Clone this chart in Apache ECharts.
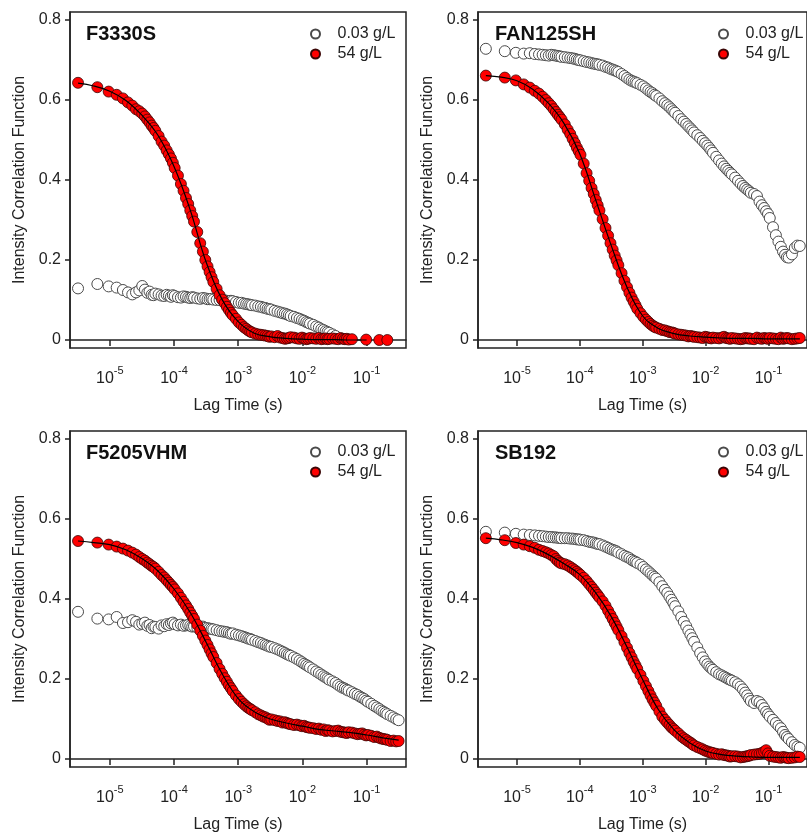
<!DOCTYPE html>
<html>
<head>
<meta charset="utf-8">
<script src="https://cdn.jsdelivr.net/npm/echarts@6/dist/echarts.min.js"></script>
<style>
  html, body { margin: 0; padding: 0; background: #fff; }
  #chart { width: 807px; height: 836px; }
</style>
</head>
<body>
<div id="chart"></div>
<script>
// lag times (s) of the correlator channels
const lagTimes = [
  3.2e-6, 6.4e-6, 9.6e-6, 1.28e-5, 1.6e-5, 1.92e-5, 2.24e-5, 2.56e-5,
  2.88e-5, 3.2e-5, 3.52e-5, 3.84e-5, 4.16e-5, 4.48e-5, 4.8e-5, 5.12e-5,
  5.76e-5, 6.4e-5, 7.04e-5, 7.68e-5, 8.32e-5, 8.96e-5, 9.6e-5, 1.024e-4,
  1.152e-4, 1.28e-4, 1.408e-4, 1.536e-4, 1.664e-4, 1.792e-4, 1.92e-4, 2.048e-4,
  2.304e-4, 2.56e-4, 2.816e-4, 3.072e-4, 3.328e-4, 3.584e-4, 3.84e-4, 4.096e-4,
  4.608e-4, 5.12e-4, 5.632e-4, 6.144e-4, 6.656e-4, 7.168e-4, 7.68e-4, 8.192e-4,
  9.216e-4, 1.024e-3, 1.126e-3, 1.229e-3, 1.331e-3, 1.434e-3, 1.536e-3, 1.638e-3,
  1.843e-3, 2.048e-3, 2.253e-3, 2.458e-3, 2.662e-3, 2.867e-3, 3.072e-3, 3.277e-3,
  3.686e-3, 4.096e-3, 4.506e-3, 4.915e-3, 5.325e-3, 5.734e-3, 6.144e-3, 6.554e-3,
  7.373e-3, 8.192e-3, 9.011e-3, 9.83e-3, 1.065e-2, 1.147e-2, 1.229e-2, 1.311e-2,
  1.475e-2, 1.638e-2, 1.802e-2, 1.966e-2, 2.13e-2, 2.294e-2, 2.458e-2, 2.621e-2,
  2.949e-2, 3.277e-2, 3.604e-2, 3.932e-2, 4.26e-2, 4.588e-2, 4.915e-2, 5.243e-2,
  5.898e-2, 6.554e-2, 7.209e-2, 7.864e-2, 8.52e-2, 9.175e-2, 9.83e-2, 0.1049,
  0.118, 0.1311, 0.1442, 0.1573, 0.1704, 0.1835, 0.1966, 0.2097,
  0.2359, 0.2621, 0.2884, 0.3146];
// lag times of the fitted curves
const fitLag = [3.2e-6, 5.62e-6, 1e-5, 1.78e-5, 3.16e-5, 5.62e-5, 1e-4, 1.78e-4, 3.16e-4,
  5.62e-4, 1e-3, 1.78e-3, 3.16e-3, 5.62e-3, 1e-2, 1.78e-2, 3.16e-2, 5.62e-2, 0.1, 0.178, 0.316];

const xTickValues = [1e-5, 1e-4, 1e-3, 1e-2, 1e-1];
const xTickExps = ['-5', '-4', '-3', '-2', '-1'];
const yTickValues = [0, 0.2, 0.4, 0.6, 0.8];
const yTickLabels = ['0', '0.2', '0.4', '0.6', '0.8'];
const seriesNames = ['0.03 g/L', '54 g/L'];
const panelTitles = ['F3330S', 'FAN125SH', 'F5205VHM', 'SB192'];

// F3330S
const f3330sLow = [
  0.129, 0.140, 0.134, 0.131, 0.125, 0.119, 0.114, 0.119,
  0.124, 0.135, 0.126, 0.118, 0.121, 0.113, 0.112, 0.116,
  0.114, 0.111, 0.110, 0.113, 0.111, 0.108, 0.112, 0.110,
  0.107, 0.106, 0.109, 0.108, 0.106, 0.105, 0.107, 0.106,
  0.104, 0.103, 0.105, 0.104, 0.102, 0.102, 0.103, 0.101,
  0.100, 0.100, 0.101, 0.099, 0.098, 0.097, 0.098, 0.097,
  0.095, 0.093, 0.093, 0.091, 0.090, 0.089, 0.088, 0.087,
  0.086, 0.084, 0.083, 0.081, 0.080, 0.078, 0.077, 0.076,
  0.073, 0.071, 0.069, 0.067, 0.066, 0.064, 0.062, 0.060,
  0.058, 0.055, 0.053, 0.050, 0.048, 0.045, 0.043, 0.041,
  0.038, 0.034, 0.031, 0.027, 0.025, 0.022, 0.020, 0.018,
  0.014, 0.010];
const f3330sHigh = [
  0.643, 0.632, 0.621, 0.613, 0.604, 0.594, 0.586, 0.577,
  0.572, 0.566, 0.559, 0.551, 0.544, 0.536, 0.530, 0.523,
  0.510, 0.496, 0.486, 0.474, 0.464, 0.454, 0.443, 0.430,
  0.411, 0.390, 0.373, 0.355, 0.340, 0.324, 0.310, 0.296,
  0.270, 0.242, 0.221, 0.200, 0.184, 0.170, 0.157, 0.145,
  0.128, 0.112, 0.101, 0.092, 0.083, 0.075, 0.068, 0.062,
  0.053, 0.044, 0.038, 0.032, 0.028, 0.024, 0.021, 0.019,
  0.016, 0.014, 0.013, 0.012, 0.011, 0.010, 0.008, 0.009,
  0.007, 0.010, 0.006, 0.005, 0.003, 0.004, 0.005, 0.007,
  0.006, 0.004, 0.003, 0.006, 0.004, 0.002, 0.003, 0.005,
  0.004, 0.003, 0.005, 0.002, 0.003, 0.004, 0.002, 0.003,
  0.004, 0.003, 0.002, 0.005, 0.003, 0.002, 0.003, 0.001,
  0.002, null, null, null, null, null, 0.001, null,
  null, null, null, 0.000, null, null, null, 0.000];
const f3330sFit = [0.642, 0.635, 0.622, 0.599, 0.562, 0.512, 0.434, 0.326, 0.195, 0.101, 0.046, 0.017,
  0.008, 0.004, 0.002, 0.001, 0.001, 0.000, 0.000];

// FAN125SH
const fan125shLow = [
  0.728, 0.722, 0.718, 0.716, 0.717, 0.715, 0.714, 0.713,
  0.712, 0.711, 0.713, 0.712, 0.711, 0.710, 0.709, 0.708,
  0.707, 0.706, 0.705, 0.704, 0.703, 0.701, 0.700, 0.699,
  0.697, 0.695, 0.694, 0.692, 0.691, 0.690, 0.689, 0.688,
  0.686, 0.683, 0.681, 0.678, 0.676, 0.674, 0.672, 0.670,
  0.665, 0.660, 0.655, 0.651, 0.648, 0.646, 0.644, 0.642,
  0.638, 0.634, 0.629, 0.624, 0.620, 0.617, 0.613, 0.610,
  0.604, 0.597, 0.592, 0.587, 0.582, 0.577, 0.572, 0.568,
  0.560, 0.552, 0.546, 0.540, 0.534, 0.529, 0.524, 0.519,
  0.512, 0.505, 0.498, 0.492, 0.486, 0.480, 0.474, 0.468,
  0.458, 0.449, 0.441, 0.434, 0.428, 0.423, 0.418, 0.414,
  0.406, 0.398, 0.391, 0.385, 0.380, 0.376, 0.372, 0.368,
  0.365, 0.360, 0.346, 0.337, 0.330, 0.322, 0.315, 0.305,
  0.282, 0.262, 0.246, 0.233, 0.221, 0.213, 0.207, 0.206,
  0.214, 0.230, 0.236, 0.235];
const fan125shHigh = [
  0.661, 0.656, 0.649, 0.639, 0.631, 0.623, 0.616, 0.608,
  0.600, 0.592, 0.585, 0.577, 0.570, 0.563, 0.557, 0.551,
  0.539, 0.526, 0.515, 0.503, 0.492, 0.481, 0.472, 0.463,
  0.441, 0.417, 0.398, 0.380, 0.365, 0.350, 0.337, 0.324,
  0.302, 0.280, 0.261, 0.242, 0.226, 0.211, 0.199, 0.187,
  0.167, 0.148, 0.132, 0.118, 0.106, 0.096, 0.087, 0.078,
  0.067, 0.058, 0.051, 0.045, 0.040, 0.036, 0.033, 0.031,
  0.028, 0.025, 0.024, 0.022, 0.020, 0.019, 0.018, 0.016,
  0.014, 0.013, 0.012, 0.011, 0.009, 0.010, 0.009, 0.008,
  0.007, 0.006, 0.005, 0.008, 0.007, 0.005, 0.004, 0.006,
  0.005, 0.004, 0.006, 0.008, 0.005, 0.004, 0.003, 0.005,
  0.004, 0.003, 0.002, 0.003, 0.005, 0.004, 0.004, 0.003,
  0.002, 0.006, 0.004, 0.003, 0.005, 0.004, 0.003, 0.005,
  0.004, 0.003, 0.002, 0.006, 0.003, 0.004, 0.005, 0.004,
  0.002, 0.003, 0.004, 0.005];
const fan125shFit = [0.661, 0.657, 0.648, 0.627, 0.592, 0.541, 0.465, 0.351, 0.236, 0.132, 0.060, 0.029,
  0.016, 0.010, 0.007, 0.005, 0.004, 0.004, 0.003, 0.003, 0.003];

// F5205VHM
const f5205vhmLow = [
  0.368, 0.351, 0.349, 0.355, 0.340, 0.342, 0.347, 0.343,
  0.336, 0.338, 0.341, 0.333, 0.335, 0.327, 0.331, 0.330,
  0.326, 0.334, 0.332, 0.337, 0.335, 0.339, 0.341, 0.337,
  0.334, 0.336, 0.333, 0.334, 0.335, 0.333, 0.331, 0.332,
  0.329, 0.330, 0.331, 0.328, 0.327, 0.326, 0.325, 0.324,
  0.322, 0.320, 0.319, 0.318, 0.317, 0.315, 0.313, 0.314,
  0.311, 0.309, 0.307, 0.305, 0.303, 0.301, 0.300, 0.298,
  0.295, 0.292, 0.290, 0.287, 0.285, 0.283, 0.281, 0.280,
  0.277, 0.274, 0.271, 0.268, 0.265, 0.262, 0.260, 0.258,
  0.254, 0.250, 0.246, 0.242, 0.238, 0.235, 0.232, 0.229,
  0.224, 0.219, 0.215, 0.211, 0.207, 0.204, 0.201, 0.198,
  0.194, 0.190, 0.185, 0.181, 0.178, 0.176, 0.173, 0.171,
  0.167, 0.163, 0.160, 0.156, 0.153, 0.150, 0.146, 0.143,
  0.138, 0.133, 0.129, 0.125, 0.121, 0.118, 0.115, 0.112,
  0.108, 0.104, 0.100, 0.097];
const f5205vhmHigh = [
  0.545, 0.541, 0.536, 0.531, 0.526, 0.521, 0.516, 0.511,
  0.505, 0.500, 0.496, 0.491, 0.487, 0.483, 0.480, 0.476,
  0.468, 0.460, 0.454, 0.447, 0.441, 0.435, 0.430, 0.424,
  0.414, 0.403, 0.393, 0.384, 0.375, 0.366, 0.358, 0.350,
  0.336, 0.321, 0.308, 0.296, 0.285, 0.274, 0.264, 0.255,
  0.240, 0.225, 0.213, 0.202, 0.193, 0.184, 0.177, 0.170,
  0.159, 0.150, 0.143, 0.137, 0.132, 0.128, 0.125, 0.122,
  0.117, 0.112, 0.109, 0.106, 0.104, 0.101, 0.098, 0.099,
  0.097, 0.095, 0.094, 0.091, 0.092, 0.090, 0.088, 0.087,
  0.085, 0.086, 0.084, 0.082, 0.083, 0.080, 0.079, 0.078,
  0.077, 0.075, 0.076, 0.073, 0.074, 0.070, 0.072, 0.071,
  0.069, 0.070, 0.071, 0.068, 0.067, 0.066, 0.065, 0.067,
  0.066, 0.064, 0.062, 0.063, 0.064, 0.061, 0.059, 0.060,
  0.058, 0.055, 0.056, 0.053, 0.051, 0.050, 0.049, 0.048,
  0.045, 0.046, 0.044, 0.045];
const f5205vhmFit = [0.545, 0.541, 0.536, 0.523, 0.501, 0.470, 0.425, 0.367, 0.292, 0.213, 0.151, 0.118,
  0.100, 0.090, 0.082, 0.074, 0.070, 0.066, 0.060, 0.053, 0.047];

// SB192
const sb192Low = [
  0.568, 0.566, 0.563, 0.561, 0.560, 0.559, 0.558, 0.557,
  0.556, 0.555, 0.555, 0.554, 0.554, 0.553, 0.553, 0.552,
  0.552, 0.552, 0.551, 0.551, 0.550, 0.549, 0.549, 0.548,
  0.547, 0.545, 0.543, 0.542, 0.541, 0.539, 0.538, 0.537,
  0.534, 0.531, 0.528, 0.525, 0.523, 0.521, 0.519, 0.516,
  0.512, 0.508, 0.505, 0.502, 0.498, 0.495, 0.493, 0.490,
  0.486, 0.480, 0.474, 0.469, 0.464, 0.459, 0.455, 0.451,
  0.442, 0.432, 0.423, 0.415, 0.406, 0.398, 0.390, 0.382,
  0.369, 0.355, 0.343, 0.332, 0.321, 0.311, 0.302, 0.293,
  0.279, 0.265, 0.254, 0.244, 0.237, 0.231, 0.227, 0.223,
  0.217, 0.212, 0.209, 0.206, 0.203, 0.200, 0.198, 0.196,
  0.192, 0.187, 0.181, 0.174, 0.166, 0.159, 0.151, 0.145,
  0.140, 0.145, 0.142, 0.135, 0.127, 0.118, 0.112, 0.106,
  0.098, 0.090, 0.083, 0.077, 0.068, 0.060, 0.055, 0.050,
  0.042, 0.035, 0.031, 0.028];
const sb192High = [
  0.552, 0.547, 0.540, 0.536, 0.532, 0.528, 0.523, 0.520,
  0.517, 0.514, 0.510, 0.507, 0.500, 0.495, 0.491, 0.489,
  0.487, 0.484, 0.480, 0.476, 0.472, 0.468, 0.464, 0.460,
  0.453, 0.445, 0.437, 0.430, 0.423, 0.416, 0.410, 0.404,
  0.394, 0.383, 0.371, 0.360, 0.350, 0.340, 0.331, 0.322,
  0.307, 0.292, 0.278, 0.265, 0.254, 0.243, 0.234, 0.225,
  0.210, 0.195, 0.182, 0.170, 0.159, 0.149, 0.141, 0.133,
  0.119, 0.106, 0.098, 0.091, 0.085, 0.079, 0.075, 0.071,
  0.064, 0.057, 0.052, 0.048, 0.044, 0.041, 0.037, 0.034,
  0.030, 0.027, 0.024, 0.021, 0.019, 0.017, 0.016, 0.015,
  0.013, 0.011, 0.012, 0.010, 0.009, 0.008, 0.006, 0.007,
  0.007, 0.006, 0.004, 0.005, 0.006, 0.007, 0.008, 0.010,
  0.011, 0.012, 0.013, 0.015, 0.018, 0.022, 0.014, 0.008,
  0.006, 0.005, 0.004, 0.003, 0.005, 0.004, 0.003, 0.002,
  0.003, 0.004, 0.006, 0.005];
const sb192Fit = [0.552, 0.548, 0.541, 0.529, 0.511, 0.488, 0.461, 0.416, 0.356, 0.280, 0.198, 0.123,
  0.073, 0.040, 0.020, 0.011, 0.007, 0.005, 0.004, 0.004, 0.004];

const lowSets = [f3330sLow, fan125shLow, f5205vhmLow, sb192Low];
const highSets = [f3330sHigh, fan125shHigh, f5205vhmHigh, sb192High];
const fitSets = [f3330sFit, fan125shFit, f5205vhmFit, sb192Fit];

// panel layout (px)
const layouts = [
  { left: 70, top: 12, width: 336, legendLeft: 310, legendTop: 26, titleLeft: 86, titleTop: 24 },
  { left: 478, top: 12, width: 338, legendLeft: 718, legendTop: 26, titleLeft: 495, titleTop: 24 },
  { left: 70, top: 431, width: 336, legendLeft: 310, legendTop: 444, titleLeft: 86, titleTop: 443 },
  { left: 478, top: 431, width: 338, legendLeft: 718, legendTop: 444, titleLeft: 495, titleTop: 443 }
];

const FONT = '"Liberation Sans", Arial, sans-serif';
const INK = '#222';

const pairs = (xs, ys) => {
  const out = [];
  ys.forEach((y, i) => { if (y !== null) out.push([xs[i], y]); });
  return out;
};

const grids = [], xAxes = [], yAxes = [], series = [], legends = [], titles = [];

layouts.forEach((L, i) => {
  grids.push({
    left: L.left, top: L.top, width: L.width, height: 336,
    show: true, borderColor: INK, borderWidth: 1.5, backgroundColor: 'transparent'
  });
  xAxes.push({
    type: 'log', logBase: 10, gridIndex: i, min: 2.4e-6, max: 0.41,
    axisLine: { show: true, lineStyle: { color: INK, width: 1.5 } },
    axisTick: { show: true, inside: false, length: 6, customValues: xTickValues, lineStyle: { color: INK, width: 1.5 } },
    axisLabel: {
      customValues: xTickValues, margin: 23,
      formatter: (v) => {
        const k = xTickValues.findIndex(t => Math.abs(Math.log10(t) - Math.log10(v)) < 1e-6);
        return '{b|10}{s|' + xTickExps[k] + '}';
      },
      rich: {
        b: { fontSize: 16, lineHeight: 16, fontFamily: FONT, color: INK, verticalAlign: 'bottom' },
        s: { fontSize: 11, lineHeight: 11, fontFamily: FONT, color: INK, verticalAlign: 'bottom', padding: [0, 0, 11, 0] }
      }
    },
    splitLine: { show: false },
    name: 'Lag Time (s)', nameLocation: 'middle', nameGap: 50,
    nameTextStyle: { fontSize: 16, color: INK, fontFamily: FONT }
  });
  yAxes.push({
    type: 'value', gridIndex: i, min: -0.02, max: 0.82,
    axisLine: { show: true, lineStyle: { color: INK, width: 1.5 } },
    axisTick: { show: true, inside: false, length: 5, customValues: yTickValues, lineStyle: { color: INK, width: 1.5 } },
    axisLabel: {
      customValues: yTickValues, margin: 9, fontSize: 16, color: INK, fontFamily: FONT,
      formatter: (v) => yTickLabels[yTickValues.findIndex(t => Math.abs(t - v) < 1e-9)]
    },
    splitLine: { show: false },
    name: 'Intensity Correlation Function', nameLocation: 'middle', nameGap: 42,
    nameTextStyle: { fontSize: 16, color: INK, fontFamily: FONT }
  });
  series.push({
    type: 'scatter', name: seriesNames[0], xAxisIndex: i, yAxisIndex: i,
    data: pairs(lagTimes, lowSets[i]), symbol: 'circle', symbolSize: 11,
    itemStyle: { color: '#ffffff', borderColor: '#4a4a4a', borderWidth: 1, opacity: 1 }, z: 2
  });
  series.push({
    type: 'scatter', name: seriesNames[1], xAxisIndex: i, yAxisIndex: i,
    data: pairs(lagTimes, highSets[i]), symbol: 'circle', symbolSize: 11,
    itemStyle: { color: '#ff0000', borderColor: '#3a0505', borderWidth: 0.8, opacity: 1 }, z: 3
  });
  series.push({
    type: 'line', name: 'fit', xAxisIndex: i, yAxisIndex: i,
    data: pairs(fitLag, fitSets[i]), showSymbol: false, smooth: 0.4,
    lineStyle: { color: '#000', width: 1.2 }, z: 4
  });
  legends.push({
    data: seriesNames, orient: 'vertical', left: L.legendLeft, top: L.legendTop,
    itemWidth: 30, itemHeight: 9, itemGap: 4, padding: 0, selectedMode: false,
    textStyle: { fontSize: 16, lineHeight: 16, color: INK, fontFamily: FONT, padding: [0, 0, 0, 2] }
  });
  titles.push({
    text: panelTitles[i], left: L.titleLeft, top: L.titleTop, padding: 0,
    textStyle: { fontSize: 20, lineHeight: 20, fontWeight: 'bold', color: '#111', fontFamily: FONT }
  });
});

const chart = echarts.init(document.getElementById('chart'));
chart.setOption({
  animation: false,
  textStyle: { fontFamily: FONT },
  title: titles,
  legend: legends,
  grid: grids,
  xAxis: xAxes,
  yAxis: yAxes,
  series: series
});
</script>
</body>
</html>
